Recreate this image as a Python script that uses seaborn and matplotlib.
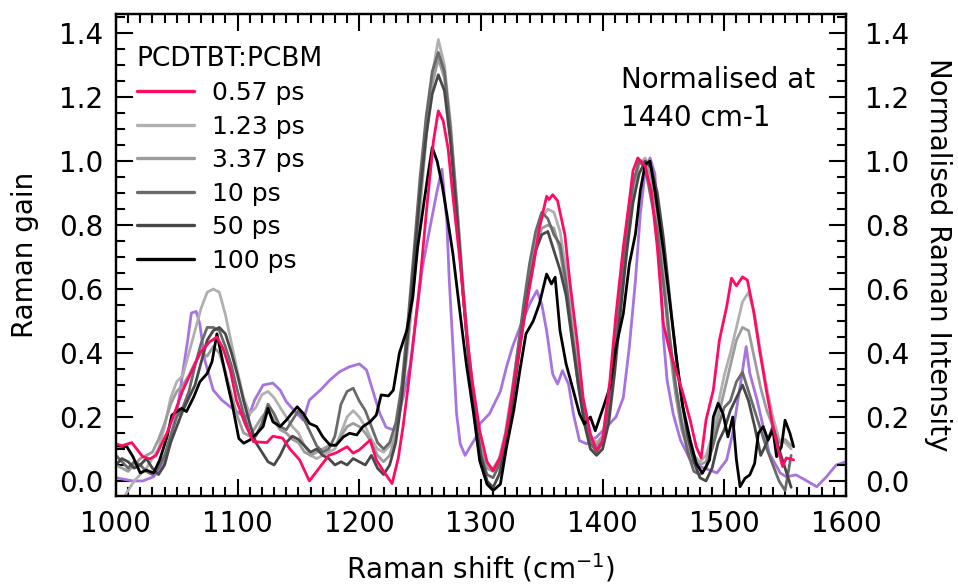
import numpy as np
import pandas as pd
import matplotlib
matplotlib.use('Agg')
import matplotlib.pyplot as plt
import seaborn as sns
from matplotlib.ticker import MultipleLocator

# ground-state Raman (purple, right axis, normalised at 1440 cm-1)
gs_shift = [1000, 1014, 1022, 1031, 1039, 1044, 1050, 1055, 1059, 1062, 1066, 1069, 1073, 1080,
            1087, 1094, 1102, 1109, 1114, 1121, 1129, 1135, 1140, 1149, 1154, 1159, 1168, 1176,
            1184, 1192, 1200, 1206, 1211, 1217, 1222, 1228, 1231, 1236, 1242, 1247, 1252, 1258,
            1264, 1268, 1272, 1274, 1277, 1280, 1283, 1287, 1291, 1296, 1299, 1307, 1316, 1321,
            1326, 1332, 1340, 1346, 1350, 1354, 1359, 1363, 1367, 1372, 1376, 1381, 1387, 1395,
            1403, 1411, 1417, 1422, 1427, 1431, 1435, 1439, 1443, 1447, 1450, 1453, 1458, 1464,
            1472, 1480, 1488, 1494, 1502, 1507, 1513, 1518, 1521, 1527, 1532, 1537, 1546, 1551,
            1559, 1568, 1576, 1584, 1592, 1600]
gs_int = [0.01, 0.0, 0.0, 0.013, 0.055, 0.128, 0.21, 0.34, 0.44, 0.525, 0.53, 0.49, 0.378, 0.284,
          0.253, 0.232, 0.21, 0.20, 0.253, 0.30, 0.306, 0.284, 0.248, 0.21, 0.19, 0.253, 0.284, 0.316,
          0.342, 0.357, 0.366, 0.347, 0.284, 0.21, 0.168, 0.16, 0.188, 0.26, 0.365, 0.52, 0.67, 0.79,
          0.907, 0.975, 0.81, 0.626, 0.42, 0.21, 0.116, 0.08, 0.106, 0.137, 0.178, 0.21, 0.28, 0.356,
          0.42, 0.48, 0.553, 0.595, 0.553, 0.47, 0.334, 0.303, 0.345, 0.303, 0.21, 0.126, 0.116, 0.137,
          0.168, 0.20, 0.26, 0.42, 0.626, 0.834, 0.97, 1.01, 0.96, 0.70, 0.45, 0.316, 0.21, 0.128,
          0.066, 0.045, 0.034, 0.025, 0.066, 0.15, 0.295, 0.42, 0.337, 0.253, 0.17, 0.087, 0.025, 0.013,
          0.019, 0.0, -0.018, 0.013, 0.05, 0.06]

# 0.57 ps
p057_shift = [1000, 1005, 1013, 1022, 1028, 1033, 1042, 1047, 1055, 1064, 1069, 1077, 1083, 1088,
              1094, 1099, 1106, 1113, 1124, 1129, 1137, 1143, 1151, 1159, 1168, 1175, 1181, 1190,
              1195, 1200, 1209, 1214, 1220, 1227, 1232, 1236, 1240, 1244, 1250, 1255, 1261, 1265,
              1269, 1273, 1277, 1283, 1288, 1293, 1299, 1305, 1310, 1316, 1321, 1326, 1332, 1337,
              1343, 1348, 1354, 1356, 1359, 1363, 1369, 1373, 1379, 1384, 1390, 1395, 1400, 1406,
              1411, 1417, 1422, 1425, 1429, 1435, 1440, 1445, 1450, 1455, 1461, 1466, 1472, 1477,
              1481, 1485, 1491, 1496, 1502, 1506, 1510, 1515, 1519, 1524, 1529, 1535, 1540, 1545,
              1548, 1551, 1557]
p057_gain = [0.116, 0.11, 0.12, 0.076, 0.069, 0.08, 0.15, 0.20, 0.284, 0.357, 0.40, 0.435, 0.45, 0.415,
             0.347, 0.253, 0.18, 0.123, 0.12, 0.14, 0.134, 0.10, 0.066, 0.0, 0.045, 0.08, 0.088, 0.107,
             0.087, 0.097, 0.128, 0.066, 0.03, -0.008, 0.07, 0.17, 0.29, 0.42, 0.626, 0.834, 1.063, 1.157,
             1.126, 1.04, 0.89, 0.68, 0.47, 0.31, 0.157, 0.06, 0.032, 0.075, 0.157, 0.28, 0.42, 0.54,
             0.67, 0.79, 0.89, 0.88, 0.895, 0.876, 0.77, 0.626, 0.44, 0.26, 0.147, 0.095, 0.126, 0.313,
             0.52, 0.73, 0.876, 0.97, 1.01, 0.985, 0.907, 0.73, 0.49, 0.41, 0.337, 0.275, 0.19, 0.107,
             0.072, 0.19, 0.284, 0.44, 0.545, 0.634, 0.61, 0.638, 0.628, 0.534, 0.41, 0.275, 0.17, 0.087,
             0.045, 0.072, 0.066]

# 100 ps
p100_shift = [1000, 1009, 1014, 1020, 1025, 1031, 1036, 1042, 1046, 1050, 1054, 1058, 1064, 1069,
              1075, 1079, 1083, 1087, 1091, 1096, 1101, 1105, 1110, 1116, 1121, 1125, 1129, 1135,
              1140, 1149, 1154, 1159, 1165, 1170, 1176, 1181, 1187, 1192, 1198, 1203, 1209, 1214,
              1218, 1224, 1228, 1233, 1239, 1244, 1248, 1253, 1257, 1260, 1264, 1268, 1272, 1277,
              1283, 1288, 1294, 1299, 1305, 1310, 1316, 1321, 1327, 1332, 1337, 1343, 1348, 1354,
              1358, 1361, 1365, 1370, 1376, 1381, 1385, 1390, 1394, 1401, 1406, 1411, 1417, 1422,
              1427, 1431, 1435, 1439, 1443, 1450, 1455, 1461, 1466, 1472, 1477, 1482, 1488, 1491,
              1495, 1499, 1503, 1507, 1510, 1513, 1517, 1521, 1525, 1528, 1532, 1536, 1540, 1543,
              1547, 1550, 1554, 1557]
p100_gain = [0.11, 0.107, 0.076, 0.025, 0.034, 0.025, 0.066, 0.138, 0.206, 0.217, 0.227, 0.217, 0.263, 0.31,
             0.336, 0.373, 0.46, 0.388, 0.316, 0.232, 0.133, 0.118, 0.128, 0.149, 0.17, 0.227, 0.185, 0.17,
             0.19, 0.232, 0.211, 0.18, 0.17, 0.138, 0.112, 0.112, 0.138, 0.149, 0.144, 0.17, 0.185, 0.206,
             0.269, 0.266, 0.284, 0.40, 0.47, 0.574, 0.73, 0.866, 0.97, 1.043, 1.0, 0.928, 0.834, 0.71,
             0.52, 0.366, 0.21, 0.063, -0.01, -0.03, -0.01, 0.105, 0.22, 0.345, 0.46, 0.50, 0.553, 0.647,
             0.616, 0.637, 0.47, 0.366, 0.282, 0.21, 0.178, 0.20, 0.157, 0.235, 0.293, 0.418, 0.522, 0.678,
             0.772, 0.907, 0.99, 1.0, 0.907, 0.72, 0.566, 0.378, 0.232, 0.128, 0.055, 0.024, 0.066, 0.20,
             0.243, 0.21, 0.138, 0.20, 0.066, -0.018, 0.008, 0.019, 0.055, 0.149, 0.17, 0.128, 0.16, 0.076,
             0.107, 0.19, 0.149, 0.107]

# grey traces share a 5 cm-1 grid
grey_shift = np.arange(1000, 1556, 5)
p123_gain = [-0.08, -0.06, -0.03, 0.00, 0.02, 0.04, 0.07, 0.10, 0.17, 0.26,
             0.31, 0.33, 0.40, 0.47, 0.54, 0.59, 0.60, 0.59, 0.52, 0.43,
             0.34, 0.26, 0.21, 0.23, 0.27, 0.28, 0.26, 0.23, 0.20, 0.17,
             0.15, 0.11, 0.08, 0.07, 0.08, 0.09, 0.10, 0.15, 0.20, 0.22,
             0.20, 0.17, 0.13, 0.10, 0.09, 0.11, 0.15, 0.25, 0.42, 0.62,
             0.85, 1.07, 1.27, 1.38, 1.30, 1.12, 0.88, 0.62, 0.40, 0.22,
             0.10, 0.05, 0.04, 0.07, 0.15, 0.27, 0.40, 0.53, 0.65, 0.75,
             0.82, 0.85, 0.84, 0.78, 0.66, 0.50, 0.34, 0.21, 0.14, 0.12,
             0.14, 0.24, 0.40, 0.58, 0.76, 0.90, 0.99, 1.01, 0.97, 0.85,
             0.66, 0.46, 0.30, 0.19, 0.12, 0.08, 0.06, 0.08, 0.14, 0.24,
             0.33, 0.40, 0.48, 0.56, 0.59, 0.52, 0.40, 0.29, 0.20, 0.13,
             0.12, 0.10]
p337_gain = [0.05, 0.04, 0.03, 0.05, 0.07, 0.08, 0.09, 0.13, 0.18, 0.24,
             0.28, 0.30, 0.33, 0.37, 0.40, 0.39, 0.42, 0.40, 0.34, 0.27,
             0.20, 0.15, 0.14, 0.17, 0.20, 0.22, 0.19, 0.16, 0.15, 0.13,
             0.12, 0.09, 0.08, 0.09, 0.10, 0.11, 0.11, 0.14, 0.17, 0.18,
             0.17, 0.15, 0.12, 0.08, 0.06, 0.08, 0.14, 0.26, 0.45, 0.66,
             0.88, 1.08, 1.24, 1.32, 1.26, 1.10, 0.88, 0.63, 0.40, 0.22,
             0.10, 0.04, 0.03, 0.06, 0.14, 0.26, 0.40, 0.53, 0.64, 0.73,
             0.79, 0.80, 0.79, 0.72, 0.60, 0.45, 0.30, 0.19, 0.13, 0.11,
             0.14, 0.26, 0.44, 0.62, 0.79, 0.92, 1.00, 1.00, 0.95, 0.82,
             0.62, 0.42, 0.27, 0.16, 0.10, 0.07, 0.05, 0.06, 0.12, 0.20,
             0.28, 0.36, 0.44, 0.48, 0.47, 0.38, 0.29, 0.22, 0.17, 0.12,
             0.13, 0.11]
p10_gain = [0.08, 0.06, 0.04, 0.06, 0.05, 0.03, 0.02, 0.04, 0.08, 0.14,
            0.20, 0.23, 0.28, 0.36, 0.43, 0.48, 0.48, 0.47, 0.42, 0.36,
            0.28, 0.21, 0.15, 0.14, 0.18, 0.24, 0.21, 0.17, 0.16, 0.19,
            0.22, 0.19, 0.15, 0.11, 0.09, 0.10, 0.14, 0.24, 0.28, 0.29,
            0.25, 0.22, 0.17, 0.12, 0.10, 0.12, 0.18, 0.30, 0.50, 0.72,
            0.95, 1.14, 1.28, 1.34, 1.28, 1.10, 0.86, 0.60, 0.37, 0.20,
            0.08, 0.02, 0.01, 0.05, 0.13, 0.25, 0.40, 0.55, 0.68, 0.78,
            0.84, 0.82, 0.77, 0.74, 0.62, 0.46, 0.32, 0.20, 0.12, 0.09,
            0.12, 0.22, 0.40, 0.60, 0.78, 0.93, 1.00, 0.98, 0.88, 0.78,
            0.62, 0.45, 0.30, 0.18, 0.09, 0.03, 0.02, 0.04, 0.10, 0.17,
            0.23, 0.25, 0.31, 0.34, 0.28, 0.22, 0.16, 0.10, 0.05, 0.00,
            -0.03, 0.08]
p50_gain = [0.05, 0.07, 0.06, 0.04, 0.05, 0.07, 0.04, 0.02, 0.05, 0.12,
            0.17, 0.22, 0.26, 0.30, 0.37, 0.44, 0.47, 0.48, 0.46, 0.40,
            0.33, 0.25, 0.18, 0.12, 0.09, 0.06, 0.05, 0.08, 0.12, 0.14,
            0.13, 0.11, 0.09, 0.10, 0.08, 0.07, 0.05, 0.06, 0.05, 0.07,
            0.06, 0.05, 0.08, 0.04, 0.02, 0.05, 0.12, 0.26, 0.46, 0.68,
            0.90, 1.08, 1.21, 1.27, 1.22, 1.06, 0.84, 0.60, 0.38, 0.20,
            0.08, 0.00, -0.02, 0.02, 0.10, 0.22, 0.36, 0.50, 0.62, 0.72,
            0.77, 0.78, 0.72, 0.66, 0.58, 0.44, 0.30, 0.18, 0.10, 0.08,
            0.10, 0.18, 0.34, 0.54, 0.72, 0.87, 0.96, 1.00, 0.98, 0.90,
            0.76, 0.58, 0.40, 0.25, 0.14, 0.06, 0.01, 0.00, 0.04, 0.12,
            0.16, 0.22, 0.26, 0.30, 0.25, 0.17, 0.08, 0.12, 0.17, 0.10,
            0.04, -0.02]

labels = ['0.57 ps', '1.23 ps', '3.37 ps', '10 ps', '50 ps', '100 ps']
colors = ['#ff0a64', '#b0b0b0', '#9c9c9c', '#6a6a6a', '#484848', '#000000']
series = [(p057_shift, p057_gain), (grey_shift, p123_gain), (grey_shift, p337_gain),
          (grey_shift, p10_gain), (grey_shift, p50_gain), (p100_shift, p100_gain)]
zorders = [9, 3, 4, 5, 6, 8]

sns.set_style('ticks')
plt.rcParams['font.family'] = ['DejaVu Sans']
plt.rcParams['mathtext.default'] = 'regular'
for key in ['text.color', 'axes.labelcolor', 'xtick.color', 'ytick.color', 'axes.edgecolor']:
    plt.rcParams[key] = 'black'

fig = plt.figure(figsize=(9.58, 5.86), dpi=100)
ax = fig.add_axes([0.121, 0.1536, 0.762, 0.8225])

sns.lineplot(x=gs_shift, y=gs_int, ax=ax, color='#a673e0', lw=2.0, zorder=2, legend=False)
for (xs, ys), lab, c, z in zip(series, labels, colors, zorders):
    sns.lineplot(x=np.asarray(xs), y=ys, ax=ax, color=c, lw=2.0, label=lab, zorder=z,
                 sort=False, estimator=None)

ax.set_xlim(1000, 1600)
ax.set_ylim(-0.047, 1.46)
ax.xaxis.set_major_locator(MultipleLocator(100))
ax.xaxis.set_minor_locator(MultipleLocator(10))
ax.yaxis.set_major_locator(MultipleLocator(0.2))
ax.yaxis.set_minor_locator(MultipleLocator(0.05))
ax.yaxis.set_major_formatter(plt.FormatStrFormatter('%.1f'))
ax.tick_params(which='both', direction='in', top=True, width=1.5, labelsize=20)
ax.tick_params(which='major', length=12)
ax.tick_params(which='minor', length=6.5)
ax.tick_params(axis='y', pad=9)
ax.tick_params(axis='x', pad=10)
for s in ax.spines.values():
    s.set_linewidth(1.6)
ax.set_xlabel('')
ax.set_ylabel('')

ax2 = ax.twinx()
ax2.set_ylim(ax.get_ylim())
ax2.yaxis.set_major_locator(MultipleLocator(0.2))
ax2.yaxis.set_minor_locator(MultipleLocator(0.05))
ax2.yaxis.set_major_formatter(plt.FormatStrFormatter('%.1f'))
ax2.tick_params(which='both', direction='in', width=1.5, labelsize=20, pad=14)
ax2.tick_params(which='major', length=12)
ax2.tick_params(which='minor', length=6.5)
for s in ax2.spines.values():
    s.set_linewidth(1.6)

leg = ax.legend(loc='upper left', bbox_to_anchor=(0.015, 0.955), borderaxespad=0,
                frameon=False, fontsize=18, title='PCDTBT:PCBM', title_fontsize=19,
                handlelength=2.3, handletextpad=0.7, labelspacing=0.38, alignment='left')
for h in leg.get_lines():
    h.set_linewidth(2.4)

fig.text(25 / 958, 1 - 255 / 586, 'Raman gain', rotation=90, ha='center', va='center', fontsize=20)
fig.text(938 / 958, 1 - 255 / 586, 'Normalised Raman Intensity', rotation=270,
         ha='center', va='center', fontsize=20)
fig.text(481 / 958, 1 - 568 / 586, 'Raman shift (cm$^{-1}$)', ha='center', va='center', fontsize=20)
fig.text(621 / 958, 1 - 88 / 586, 'Normalised at', ha='left', va='baseline', fontsize=20)
fig.text(621 / 958, 1 - 126 / 586, '1440 cm-1', ha='left', va='baseline', fontsize=20)

fig.savefig('out.png', dpi=100)
